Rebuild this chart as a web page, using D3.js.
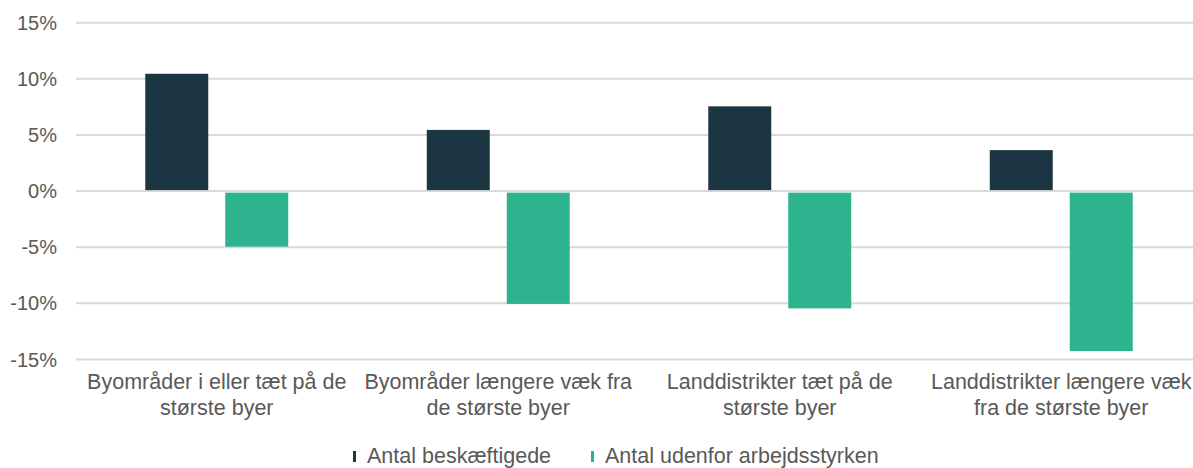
<!DOCTYPE html>
<meta charset="utf-8">
<style>
body { margin: 0; background: #fff; }
text { font-family: "Liberation Sans", Arial, sans-serif; fill: #595959; }
.tick text { font-size: 20px; }
.cat text { font-size: 21.5px; text-anchor: middle; }
.legend text { font-size: 21.5px; }
</style>
<svg width="1193" height="468"></svg>
<script src="https://d3js.org/d3.v7.min.js"></script>
<script>

var categories = [
  ["Byområder i eller tæt på de", "største byer"],
  ["Byområder længere væk fra", "de største byer"],
  ["Landdistrikter tæt på de", "største byer"],
  ["Landdistrikter længere væk", "fra de største byer"]
];
var seriesNames = ["Antal beskæftigede", "Antal udenfor arbejdsstyrken"];
var employed = [10.45, 5.45, 7.55, 3.65];
var outside = [-4.95, -10.05, -10.45, -14.25];
var yTicks = [-15, -10, -5, 0, 5, 10, 15];
var colors = ["#1b3542", "#2db38e"];

var svg = d3.select("svg");

var x = d3.scaleBand()
    .domain(d3.range(categories.length))
    .range([76, 1202]);

var xs = d3.scaleBand()
    .domain([0, 1])
    .range([0, x.bandwidth()])
    .paddingInner(0.2125)
    .paddingOuter(0.866);

var y = d3.scaleLinear()
    .domain([-15, 15])
    .range([359.5, 22.7]);

// gridlines
svg.append("g")
  .selectAll("line")
  .data(yTicks)
  .enter().append("line")
    .attr("x1", 76)
    .attr("x2", 1193)
    .attr("y1", function(d) { return y(d); })
    .attr("y2", function(d) { return y(d); })
    .attr("stroke", "#d9d9d9")
    .attr("stroke-width", 2);

// y labels
svg.append("g")
    .attr("class", "tick")
  .selectAll("text")
  .data(yTicks)
  .enter().append("text")
    .attr("x", 57)
    .attr("y", function(d) { return y(d); })
    .attr("dy", "0.35em")
    .attr("text-anchor", "end")
    .text(function(d) { return d + "%"; });

var series = [employed, outside];

series.forEach(function(vals, s) {
  svg.append("g")
    .selectAll("rect")
    .data(vals)
    .enter().append("rect")
      .attr("x", function(d, i) { return x(i) + xs(s); })
      .attr("width", xs.bandwidth())
      .attr("y", function(d) { return d >= 0 ? y(d) : y(0) + 1.5; })
      .attr("height", function(d) { return d >= 0 ? y(0) - 1 - y(d) : y(d) - y(0) - 1.5; })
      .attr("fill", colors[s]);
});

// category labels
var cat = svg.append("g")
    .attr("class", "cat")
  .selectAll("text")
  .data(categories)
  .enter().append("text")
    .attr("x", function(d, i) { return x(i) + x.bandwidth() / 2; })
    .attr("y", 389);

cat.selectAll("tspan")
  .data(function(d) { return d; })
  .enter().append("tspan")
    .attr("x", function() { return d3.select(this.parentNode).attr("x"); })
    .attr("dy", function(d, i) { return i ? 26 : 0; })
    .text(function(d) { return d; });

// legend
var legendX = [353, 591];
var legend = svg.append("g")
    .attr("class", "legend")
  .selectAll("g")
  .data(seriesNames)
  .enter().append("g")
    .attr("transform", function(d, i) { return "translate(" + legendX[i] + ",0)"; });

legend.append("rect")
    .attr("y", 451)
    .attr("width", 3)
    .attr("height", 11)
    .attr("fill", function(d, i) { return colors[i]; });

legend.append("text")
    .attr("x", 14)
    .attr("y", 463)
    .text(function(d) { return d; });

</script>
